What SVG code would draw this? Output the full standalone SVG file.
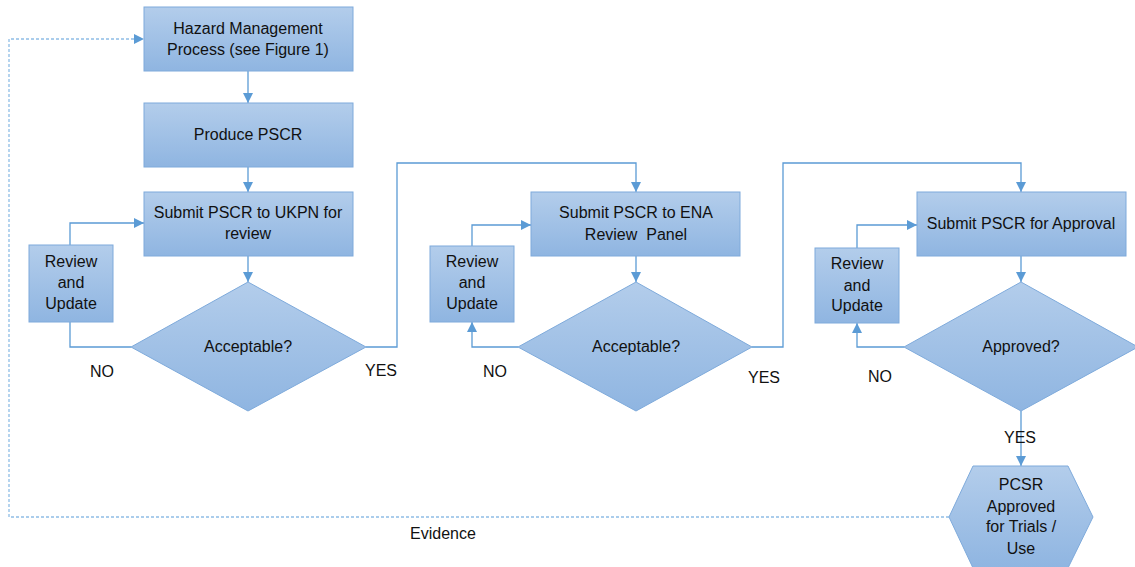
<svg xmlns="http://www.w3.org/2000/svg" width="1135" height="567" viewBox="0 0 1135 567">
<defs>
<linearGradient id="g" x1="0" y1="0" x2="0" y2="1">
<stop offset="0" stop-color="#b3cdeb"/>
<stop offset="1" stop-color="#8fb5e1"/>
</linearGradient>
<marker id="a" viewBox="0 0 10 10" refX="10" refY="5" markerWidth="10" markerHeight="10" markerUnits="userSpaceOnUse" orient="auto">
<path d="M0,0 L10,5 L0,10 z" fill="#5b9bd5"/>
</marker>
</defs>
<style>
.n{fill:url(#g);stroke:#7eaadb;stroke-width:1}
.t{font-family:"Liberation Sans",Arial,sans-serif;font-size:16px;fill:#111;text-anchor:middle}
.c{fill:none;stroke:#5b9bd5;stroke-width:1.3}
.d{fill:none;stroke:#8ebde6;stroke-width:1.3;stroke-dasharray:3,2}
</style>
<rect width="1135" height="567" fill="#fff"/>
<g id="connectors">
<path class="d" d="M949,517 H9 V39 H134" />
<path d="M134,34 L144,39 L134,44 z" fill="#5b9bd5"/>
<path class="c" d="M248,71 V103" marker-end="url(#a)"/>
<path class="c" d="M248,167 V192" marker-end="url(#a)"/>
<path class="c" d="M248,256 V282" marker-end="url(#a)"/>
<path class="c" d="M131,347 H70 V322"/>
<path class="c" d="M70,245 V223 H144" marker-end="url(#a)"/>
<path class="c" d="M366,347 H397 V163 H636 V192" marker-end="url(#a)"/>
<path class="c" d="M636,256 V282" marker-end="url(#a)"/>
<path class="c" d="M518,347 H472 V322" marker-end="url(#a)"/>
<path class="c" d="M472,246 V225 H531" marker-end="url(#a)"/>
<path class="c" d="M752,347 H783 V163 H1021 V192" marker-end="url(#a)"/>
<path class="c" d="M1021,256 V282" marker-end="url(#a)"/>
<path class="c" d="M904,347 H857 V323" marker-end="url(#a)"/>
<path class="c" d="M857,248 V225 H917" marker-end="url(#a)"/>
<path class="c" d="M1021,411 V466" marker-end="url(#a)"/>
</g>
<g id="n1"><rect class="n" x="144" y="7" width="209" height="64"/>
<text class="t" x="248" y="34">Hazard Management</text><text class="t" x="248" y="55">Process (see Figure 1)</text></g>
<g id="n2"><rect class="n" x="144" y="103" width="209" height="64"/>
<text class="t" x="248" y="140">Produce PSCR</text></g>
<g id="n3"><rect class="n" x="144" y="192" width="209" height="64"/>
<text class="t" x="248" y="218">Submit PSCR to UKPN for</text><text class="t" x="248" y="239">review</text></g>
<g id="r1"><rect class="n" x="29" y="245" width="84" height="77"/>
<text class="t" x="71" y="267">Review</text><text class="t" x="71" y="288">and</text><text class="t" x="71" y="309">Update</text></g>
<g id="d1"><polygon class="n" points="248,282 366,347 248,411 131,347"/>
<text class="t" x="248" y="352">Acceptable?</text></g>
<g id="n4"><rect class="n" x="531" y="192" width="209" height="64"/>
<text class="t" x="636" y="218">Submit PSCR to ENA</text><text class="t" x="636" y="240" xml:space="preserve">Review  Panel</text></g>
<g id="r2"><rect class="n" x="430" y="246" width="84" height="76"/>
<text class="t" x="472" y="267">Review</text><text class="t" x="472" y="288">and</text><text class="t" x="472" y="309">Update</text></g>
<g id="d2"><polygon class="n" points="636,282 752,347 636,411 518,347"/>
<text class="t" x="636" y="352">Acceptable?</text></g>
<g id="n5"><rect class="n" x="917" y="192" width="209" height="64"/>
<text class="t" x="1021" y="229">Submit PSCR for Approval</text></g>
<g id="r3"><rect class="n" x="815" y="248" width="84" height="75"/>
<text class="t" x="857" y="269">Review</text><text class="t" x="857" y="291">and</text><text class="t" x="857" y="311">Update</text></g>
<g id="d3"><polygon class="n" points="1021,282 1138,347 1021,411 904,347"/>
<text class="t" x="1021" y="352">Approved?</text></g>
<g id="h1"><polygon class="n" points="973,466 1068,466 1093,517 1068,568 973,568 949,517"/>
<text class="t" x="1021" y="490">PCSR</text><text class="t" x="1021" y="512">Approved</text><text class="t" x="1021" y="532">for Trials /</text><text class="t" x="1021" y="554">Use</text></g>
<g id="labels">
<text class="t" x="102" y="377">NO</text>
<text class="t" x="381" y="376">YES</text>
<text class="t" x="495" y="377">NO</text>
<text class="t" x="764" y="383">YES</text>
<text class="t" x="880" y="382">NO</text>
<text class="t" x="1020" y="443">YES</text>
<text class="t" x="443" y="539">Evidence</text>
</g>
</svg>
